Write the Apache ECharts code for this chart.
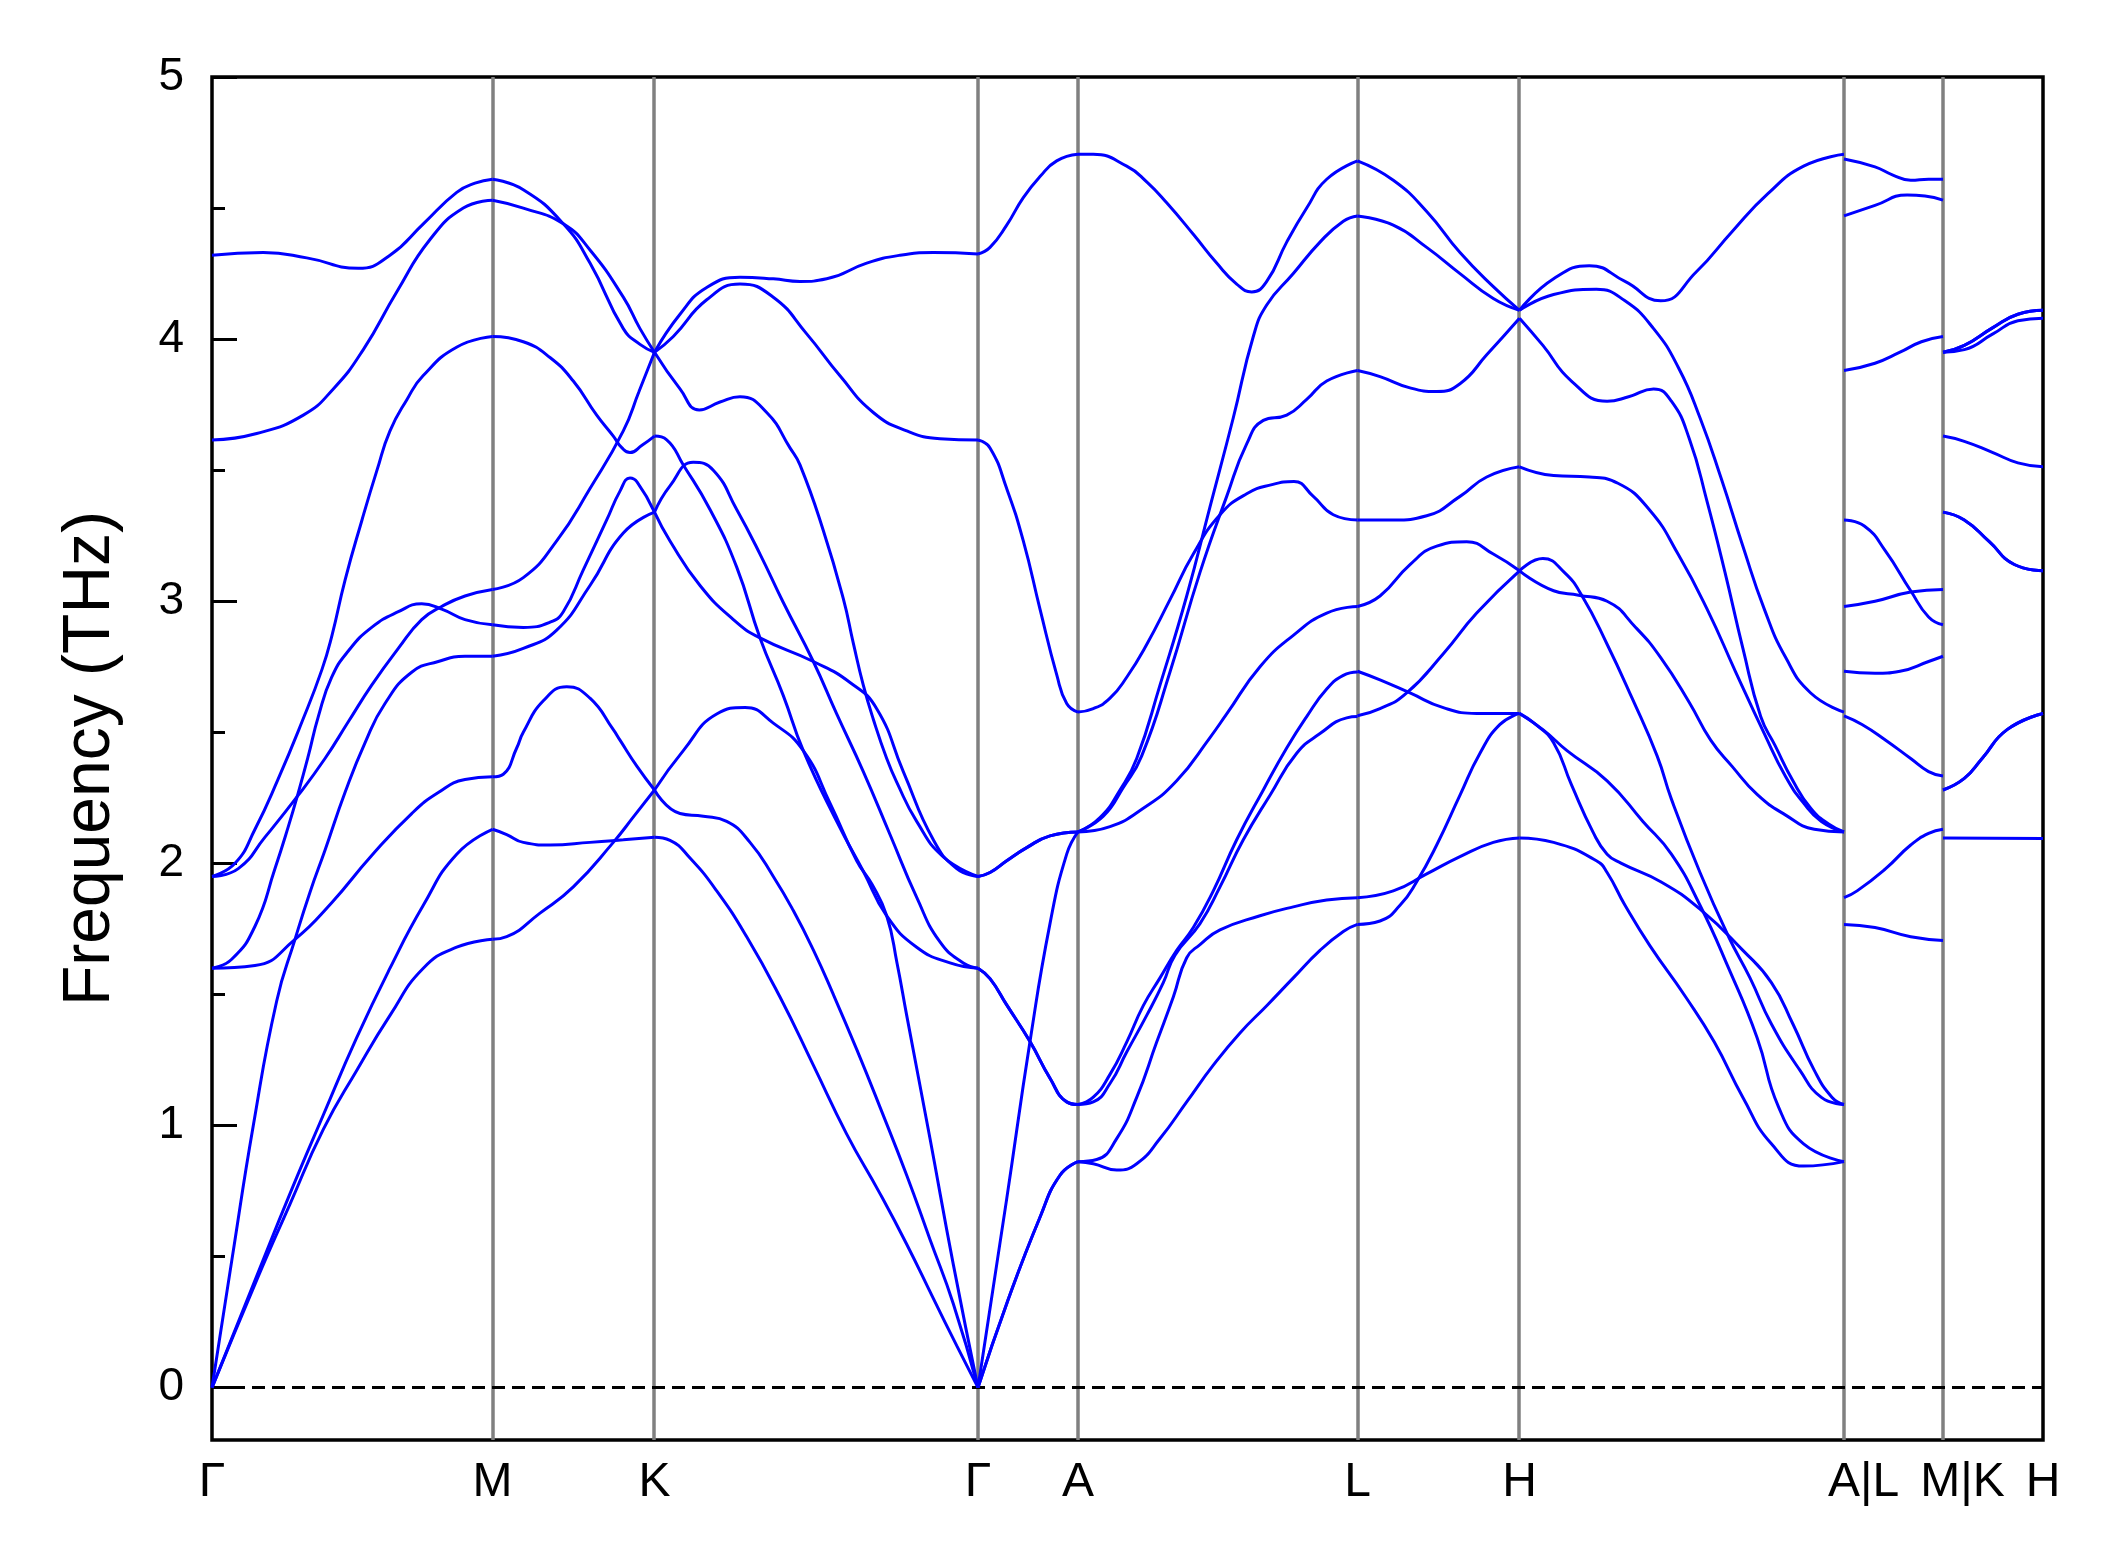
<!DOCTYPE html>
<html>
<head>
<meta charset="utf-8">
<title>Phonon band structure</title>
<script src="https://cdn.jsdelivr.net/npm/echarts@6/dist/echarts.min.js"></script>
<style>
  html, body { margin: 0; padding: 0; background: #fff; }
  #chart { width: 2120px; height: 1567px; }
</style>
</head>
<body>
<div id="chart"></div>
<script>
// high-symmetry points along the k-path (path distance, arbitrary units)
const kTicks = [0, 2.805, 4.425, 7.66, 8.66, 11.455, 13.075, 16.32, 17.31, 18.31];
const kLabels = ["Γ", "M", "K", "Γ", "A", "L", "H", "A|L", "M|K", "H"];
const freqTicks = [0, 1, 2, 3, 4, 5];
const freqMinorTicks = [0.5, 1.5, 2.5, 3.5, 4.5];

// bands per path segment, each band is a list of [k, frequency (THz)]
const bandsGM = [
  [[0,4.32],[0.513,4.33],[0.947,4.31],[1.463,4.27],[1.78,4.32],[2.113,4.44],[2.447,4.56],[2.63,4.595],[2.805,4.61]],
  [[0,3.615],[0.447,3.64],[0.913,3.71],[1.213,3.81],[1.513,3.96],[1.847,4.18],[2.18,4.38],[2.513,4.50],[2.805,4.53]],
  [[0,1.95],[0.23,2.00],[0.43,2.13],[0.66,2.32],[0.9,2.54],[1.1,2.74],[1.2,2.87],[1.33,3.08],[1.5,3.31],[1.65,3.5],[1.78,3.65],[1.95,3.77],[2.11,3.86],[2.45,3.97],[2.805,4.01]],
  [[0,1.95],[0.263,1.98],[0.53,2.10],[0.863,2.26],[1.13,2.40],[1.363,2.54],[1.597,2.68],[1.863,2.82],[2.097,2.93],[2.297,2.98],[2.53,3.02],[2.805,3.045]],
  [[0,1.6],[0.197,1.634],[0.43,1.76],[0.63,1.98],[0.763,2.14],[0.863,2.27],[0.963,2.41],[1.063,2.56],[1.197,2.71],[1.363,2.81],[1.597,2.90],[1.863,2.96],[2.097,2.99],[2.297,2.97],[2.53,2.93],[2.805,2.91]],
  [[0,1.6],[0.43,1.61],[0.83,1.71],[1.197,1.85],[1.597,2.03],[1.997,2.19],[2.263,2.27],[2.53,2.32],[2.805,2.33]],
  [[0,0],[0.2,0.49],[0.413,1.0],[0.647,1.475],[0.83,1.71],[0.98,1.89],[1.13,2.05],[1.33,2.27],[1.53,2.46],[1.73,2.61],[2.0,2.73],[2.263,2.77],[2.53,2.79],[2.805,2.79]],
  [[0,0],[0.447,0.41],[0.78,0.70],[1.113,0.985],[1.447,1.21],[1.78,1.42],[2.113,1.60],[2.447,1.68],[2.805,1.71]],
  [[0,0],[0.447,0.425],[0.78,0.74],[1.113,1.04],[1.447,1.335],[1.78,1.60],[2.113,1.84],[2.447,2.035],[2.805,2.13]]
];

const bandsMK = [
  [[2.805,1.71],[2.947,1.72],[3.28,1.81],[3.613,1.91],[4.013,2.08],[4.22,2.18],[4.425,2.28]],
  [[2.805,2.13],[2.947,2.11],[3.113,2.08],[3.38,2.07],[3.78,2.08],[4.113,2.09],[4.425,2.10]],
  [[2.805,2.33],[2.913,2.34],[3.047,2.44],[3.113,2.50],[3.313,2.62],[3.547,2.674],[3.78,2.63],[4.013,2.51],[4.08,2.47],[4.25,2.37],[4.425,2.28]],
  [[2.805,2.79],[3.113,2.82],[3.447,2.89],[3.78,3.06],[4.113,3.26],[4.425,3.34]],
  [[2.805,2.91],[3.113,2.90],[3.38,2.92],[3.513,2.96],[3.713,3.12],[3.947,3.31],[4.08,3.42],[4.18,3.47],[4.25,3.455],[4.425,3.34]],
  [[2.805,3.045],[3.113,3.09],[3.447,3.23],[3.78,3.43],[4.113,3.65],[4.27,3.80],[4.425,3.95]],
  [[2.805,4.01],[3.113,3.99],[3.38,3.93],[3.613,3.84],[3.847,3.71],[4.013,3.63],[4.1,3.585],[4.18,3.567],[4.3,3.595],[4.425,3.63]],
  [[2.805,4.53],[3.113,4.50],[3.513,4.44],[3.78,4.34],[4.113,4.16],[4.28,4.04],[4.425,3.95]],
  [[2.805,4.61],[3.113,4.57],[3.513,4.44],[3.78,4.29],[4.113,4.04],[4.28,3.98],[4.425,3.95]]
];

const bandsKG = [
  [[4.425,3.95],[4.68,4.095],[4.947,4.197],[5.28,4.236],[5.613,4.23],[5.88,4.22],[6.147,4.23],[6.547,4.29],[6.88,4.32],[7.213,4.33],[7.66,4.325]],
  [[4.425,3.95],[4.613,4.01],[4.947,4.15],[5.28,4.21],[5.613,4.16],[5.947,4.02],[6.28,3.86],[6.613,3.72],[6.947,3.65],[7.28,3.62],[7.66,3.615]],
  [[4.425,3.95],[4.68,3.81],[4.873,3.73],[5.08,3.76],[5.28,3.78],[5.547,3.72],[5.78,3.585],[5.88,3.52],[6.113,3.27],[6.313,3.01],[6.413,2.84],[6.513,2.68],[6.613,2.55],[6.747,2.40],[6.847,2.31],[7.047,2.16],[7.313,2.025],[7.66,1.95]],
  [[4.425,3.63],[4.547,3.616],[4.713,3.52],[4.98,3.35],[5.247,3.13],[5.48,2.86],[5.713,2.64],[5.913,2.43],[6.247,2.16],[6.513,1.97],[6.747,1.80],[7.047,1.68],[7.38,1.62],[7.66,1.60]],
  [[4.425,3.34],[4.58,3.44],[4.813,3.53],[5.013,3.50],[5.247,3.35],[5.48,3.18],[5.713,2.995],[6.013,2.77],[6.247,2.57],[6.513,2.35],[6.78,2.11],[7.047,1.87],[7.28,1.70],[7.513,1.62],[7.66,1.60]],
  [[4.425,3.34],[4.58,3.23],[4.88,3.06],[5.213,2.93],[5.48,2.86],[6.013,2.77],[6.38,2.69],[6.647,2.59],[6.913,2.35],[7.213,2.09],[7.447,1.98],[7.66,1.95]],
  [[4.425,2.28],[4.713,2.43],[5.047,2.57],[5.33,2.595],[5.613,2.535],[5.913,2.43],[6.18,2.23],[6.447,2.01],[6.6,1.92],[6.747,1.80],[6.85,1.62],[6.947,1.42],[7.18,0.95],[7.413,0.47],[7.66,0]],
  [[4.425,2.28],[4.68,2.19],[4.913,2.18],[5.147,2.16],[5.38,2.08],[5.613,1.95],[5.813,1.82],[6.013,1.67],[6.213,1.50],[6.447,1.29],[6.68,1.07],[6.947,0.81],[7.18,0.565],[7.413,0.32],[7.66,0]],
  [[4.425,2.10],[4.58,2.088],[4.78,2.02],[5.047,1.895],[5.347,1.72],[5.68,1.49],[6.013,1.23],[6.347,0.967],[6.68,0.74],[6.947,0.547],[7.213,0.34],[7.447,0.16],[7.66,0]]
];

const bandsGA = [
  [[7.66,4.325],[7.78,4.35],[7.947,4.435],[8.113,4.54],[8.28,4.62],[8.447,4.68],[8.66,4.705]],
  [[7.66,3.615],[7.78,3.585],[7.947,3.43],[8.113,3.23],[8.28,2.97],[8.447,2.72],[8.547,2.61],[8.66,2.577]],
  [[7.66,1.95],[7.78,1.965],[7.947,2.01],[8.147,2.06],[8.38,2.105],[8.66,2.12]],
  [[7.66,1.95],[7.78,1.965],[7.947,2.01],[8.147,2.06],[8.38,2.105],[8.66,2.12]],
  [[7.66,1.6],[7.78,1.56],[7.947,1.46],[8.18,1.32],[8.38,1.18],[8.547,1.09],[8.66,1.08]],
  [[7.66,1.6],[7.78,1.56],[7.947,1.46],[8.18,1.32],[8.38,1.18],[8.547,1.09],[8.66,1.08]],
  [[7.66,0],[7.947,0.72],[8.18,1.32],[8.38,1.77],[8.547,2.035],[8.66,2.12]],
  [[7.66,0],[7.947,0.32],[8.28,0.65],[8.48,0.81],[8.66,0.862]],
  [[7.66,0],[7.947,0.32],[8.28,0.65],[8.48,0.81],[8.66,0.862]]
];

const bandsAL = [
  [[8.66,4.705],[8.813,4.705],[9.147,4.66],[9.347,4.60],[9.547,4.52],[9.813,4.40],[10.047,4.29],[10.247,4.21],[10.397,4.18],[10.547,4.22],[10.747,4.37],[10.947,4.50],[11.147,4.61],[11.455,4.68]],
  [[8.66,2.12],[8.88,2.175],[9.08,2.28],[9.247,2.40],[9.48,2.68],[9.747,3.02],[9.98,3.36],[10.213,3.70],[10.413,4.01],[10.547,4.13],[10.813,4.25],[11.08,4.37],[11.313,4.45],[11.455,4.47]],
  [[8.66,2.12],[8.913,2.18],[9.113,2.29],[9.297,2.41],[9.58,2.73],[9.88,3.11],[10.147,3.40],[10.347,3.60],[10.513,3.69],[10.747,3.71],[10.947,3.77],[11.147,3.84],[11.455,3.88]],
  [[8.66,2.12],[8.98,2.14],[9.313,2.21],[9.647,2.315],[9.98,2.48],[10.147,2.57],[10.48,2.75],[10.813,2.87],[11.147,2.955],[11.455,2.98]],
  [[8.66,2.577],[8.813,2.59],[8.98,2.63],[9.147,2.71],[9.347,2.835],[9.58,3.006],[9.813,3.18],[10.08,3.33],[10.347,3.41],[10.6,3.445],[10.82,3.457],[11.013,3.40],[11.213,3.33],[11.455,3.31]],
  [[8.66,1.08],[8.813,1.108],[8.98,1.195],[9.147,1.318],[9.313,1.457],[9.48,1.563],[9.647,1.668],[9.813,1.755],[10.013,1.895],[10.247,2.09],[10.513,2.28],[10.747,2.44],[10.947,2.56],[11.147,2.665],[11.313,2.717],[11.455,2.73]],
  [[8.66,1.08],[8.813,1.09],[8.98,1.16],[9.147,1.28],[9.347,1.42],[9.513,1.545],[9.63,1.65],[9.88,1.77],[10.08,1.91],[10.313,2.09],[10.58,2.26],[10.847,2.42],[11.08,2.495],[11.347,2.555],[11.455,2.56]],
  [[8.66,0.862],[8.847,0.87],[9.047,0.95],[9.247,1.107],[9.447,1.318],[9.613,1.49],[9.747,1.64],[9.88,1.69],[10.08,1.746],[10.48,1.80],[10.813,1.834],[11.147,1.86],[11.455,1.869]],
  [[8.66,0.862],[8.813,0.854],[9.047,0.83],[9.247,0.854],[9.48,0.95],[9.747,1.09],[10.013,1.23],[10.28,1.353],[10.547,1.457],[10.813,1.563],[11.08,1.668],[11.313,1.74],[11.455,1.767]]
];

const bandsLH = [
  [[11.455,4.68],[11.813,4.606],[12.147,4.487],[12.48,4.33],[12.813,4.20],[13.075,4.11]],
  [[11.455,4.47],[11.813,4.435],[12.147,4.35],[12.48,4.25],[12.813,4.155],[13.075,4.11]],
  [[11.455,3.88],[11.68,3.857],[11.98,3.814],[12.247,3.80],[12.48,3.83],[12.747,3.94],[13.075,4.08]],
  [[11.455,3.31],[11.813,3.31],[12.147,3.326],[12.48,3.40],[12.747,3.474],[13.075,3.513]],
  [[11.455,2.98],[11.68,3.02],[11.98,3.14],[12.247,3.21],[12.547,3.227],[12.813,3.18],[13.075,3.116]],
  [[11.455,2.733],[11.68,2.70],[11.98,2.65],[12.313,2.594],[12.647,2.572],[13.075,2.572]],
  [[11.455,2.563],[11.68,2.59],[11.947,2.65],[12.313,2.80],[12.647,2.955],[13.075,3.116]],
  [[11.455,1.869],[11.813,1.895],[12.147,1.96],[12.48,2.026],[12.813,2.08],[13.075,2.097]],
  [[11.455,1.767],[11.68,1.78],[11.88,1.84],[12.047,1.93],[12.247,2.07],[12.48,2.26],[12.68,2.42],[12.88,2.53],[13.075,2.572]]
];

const bandsHA = [
  [[13.075,4.11],[13.416,4.23],[13.773,4.28],[14.13,4.22],[14.487,4.146],[14.844,4.257],[15.2,4.41],[15.559,4.555],[15.916,4.66],[16.32,4.705]],
  [[13.075,4.11],[13.416,4.17],[13.844,4.19],[14.13,4.146],[14.416,4.04],[14.666,3.89],[14.88,3.70],[15.094,3.466],[15.309,3.21],[15.523,2.97],[15.737,2.785],[15.987,2.65],[16.32,2.577]],
  [[13.075,4.08],[13.309,3.976],[13.594,3.84],[13.951,3.763],[14.166,3.78],[14.416,3.81],[14.594,3.763],[14.773,3.62],[14.951,3.38],[15.13,3.11],[15.309,2.82],[15.487,2.56],[15.63,2.45],[15.809,2.315],[15.987,2.21],[16.166,2.15],[16.32,2.12]],
  [[13.075,3.513],[13.416,3.48],[13.773,3.474],[14.059,3.45],[14.38,3.346],[14.666,3.176],[14.951,2.97],[15.237,2.73],[15.523,2.495],[15.737,2.33],[15.916,2.23],[16.094,2.16],[16.32,2.12]],
  [[13.075,3.116],[13.309,3.163],[13.523,3.11],[13.701,3.02],[13.951,2.836],[14.201,2.63],[14.451,2.41],[14.594,2.245],[14.88,1.965],[15.166,1.72],[15.38,1.563],[15.594,1.387],[15.88,1.21],[16.094,1.107],[16.32,1.08]],
  [[13.075,3.116],[13.416,3.04],[13.666,3.023],[13.951,3.00],[14.237,2.90],[14.487,2.785],[14.773,2.614],[14.987,2.47],[15.201,2.37],[15.451,2.263],[15.737,2.184],[16.023,2.13],[16.32,2.12]],
  [[13.075,2.572],[13.237,2.53],[13.416,2.46],[13.594,2.30],[13.809,2.12],[13.951,2.035],[14.094,2.00],[14.487,1.93],[14.88,1.825],[15.309,1.668],[15.594,1.545],[15.809,1.387],[16.023,1.21],[16.201,1.107],[16.32,1.08]],
  [[13.075,2.572],[13.309,2.51],[13.55,2.43],[13.951,2.315],[14.309,2.16],[14.594,2.035],[14.88,1.84],[15.166,1.60],[15.451,1.335],[15.666,1.07],[15.916,0.93],[16.32,0.862]],
  [[13.075,2.097],[13.416,2.08],[13.844,2.01],[13.951,1.965],[14.13,1.84],[14.38,1.685],[14.737,1.49],[15.023,1.318],[15.309,1.107],[15.594,0.93],[15.916,0.845],[16.32,0.862]]
];

const bandsLM = [
  [[16.32,4.687],[16.63,4.657],[16.809,4.626],[16.987,4.606],[17.166,4.61],[17.31,4.61]],
  [[16.32,4.47],[16.63,4.51],[16.951,4.55],[17.13,4.546],[17.31,4.53]],
  [[16.32,3.88],[16.63,3.908],[16.88,3.95],[17.094,3.99],[17.31,4.01]],
  [[16.32,3.31],[16.523,3.287],[16.737,3.19],[16.987,3.04],[17.166,2.94],[17.31,2.91]],
  [[16.32,2.98],[16.63,3.00],[16.987,3.035],[17.31,3.045]],
  [[16.32,2.733],[16.63,2.725],[16.88,2.733],[17.166,2.77],[17.31,2.79]],
  [[16.32,2.563],[16.5,2.53],[16.737,2.47],[16.987,2.40],[17.166,2.35],[17.31,2.333]],
  [[16.32,1.869],[16.451,1.895],[16.737,1.98],[16.987,2.07],[17.166,2.114],[17.31,2.13]],
  [[16.32,1.767],[16.63,1.755],[16.987,1.72],[17.31,1.706]]
];

const bandsKH = [
  [[17.31,3.95],[17.523,3.976],[17.809,4.044],[18.059,4.095],[18.31,4.11]],
  [[17.31,3.95],[17.523,3.976],[17.809,4.044],[18.059,4.095],[18.31,4.11]],
  [[17.31,3.95],[17.523,3.96],[17.809,4.02],[18.059,4.07],[18.31,4.08]],
  [[17.31,3.63],[17.523,3.61],[17.809,3.567],[18.059,3.528],[18.31,3.513]],
  [[17.31,3.34],[17.523,3.31],[17.773,3.227],[18.023,3.14],[18.31,3.116]],
  [[17.31,3.34],[17.523,3.31],[17.773,3.227],[18.023,3.14],[18.31,3.116]],
  [[17.31,2.28],[17.523,2.324],[17.701,2.40],[17.951,2.51],[18.31,2.572]],
  [[17.31,2.28],[17.523,2.324],[17.701,2.40],[17.951,2.51],[18.31,2.572]],
  [[17.31,2.097],[17.8,2.096],[18.31,2.095]]
];

const segments = [bandsGM, bandsMK, bandsKG, bandsGA, bandsAL, bandsLH, bandsHA, bandsLM, bandsKH];

const FONT = "Liberation Sans, Arial, sans-serif";
const chart = echarts.init(document.getElementById("chart"));

const bandSeries = [];
segments.forEach((seg) => {
  seg.forEach((band) => {
    bandSeries.push({
      type: "line",
      data: band,
      smooth: 0.5,
      symbol: "none",
      silent: true,
      z: 3,
      lineStyle: { color: "#0000ff", width: 3 },
    });
  });
});

// vertical lines at the high-symmetry points and the dashed zero line
const guideSeries = {
  type: "line",
  data: [],
  silent: true,
  markLine: {
    symbol: "none",
    silent: true,
    z: 1,
    label: { show: false },
    animation: false,
    data: [
      ...kTicks.slice(1, -1).map((k) => ({ xAxis: k, lineStyle: { color: "#808080", width: 3.5, type: "solid" } })),
      { yAxis: 0, lineStyle: { color: "#000", width: 3, type: [13, 7] } },
    ],
  },
};

const labelFor = (v) => {
  let best = 0;
  kTicks.forEach((k, i) => { if (Math.abs(k - v) < Math.abs(kTicks[best] - v)) best = i; });
  const s = kLabels[best];
  return s.includes("|") ? "{sp|" + s + "}" : s;
};

chart.setOption({
  animation: false,
  backgroundColor: "#fff",
  grid: { left: 212, right: 77, top: 77, bottom: 127, show: true, borderColor: "#000", borderWidth: 3.5 },
  xAxis: {
    type: "value",
    min: 0,
    max: 18.31,
    axisLine: { show: false },
    axisTick: { show: false },
    splitLine: { show: false },
    axisLabel: {
      customValues: kTicks,
      margin: 19,
      fontSize: 48,
      color: "#000",
      fontFamily: FONT,
      formatter: labelFor,
      rich: { sp: { fontSize: 48, color: "#000", fontFamily: FONT, padding: [0, 0, 0, 39] } },
    },
  },
  yAxis: [
    {
      type: "value",
      min: -0.2,
      max: 5,
      axisLine: { show: false },
      splitLine: { show: false },
      axisTick: { show: true, inside: true, length: 25, lineStyle: { color: "#000", width: 3 }, customValues: freqTicks },
      axisLabel: { customValues: freqTicks, margin: 28, fontSize: 46, color: "#000", fontFamily: FONT },
      name: "Frequency (THz)",
      nameLocation: "middle",
      nameRotate: 90,
      nameGap: 88,
      nameTextStyle: { fontSize: 66, color: "#000", fontFamily: FONT },
    },
    {
      type: "value",
      min: -0.2,
      max: 5,
      position: "left",
      axisLine: { show: false },
      splitLine: { show: false },
      axisLabel: { show: false },
      axisTick: { show: true, inside: true, length: 13, lineStyle: { color: "#000", width: 3 }, customValues: freqMinorTicks },
    },
  ],
  series: [guideSeries, ...bandSeries],
});
</script>
</body>
</html>
